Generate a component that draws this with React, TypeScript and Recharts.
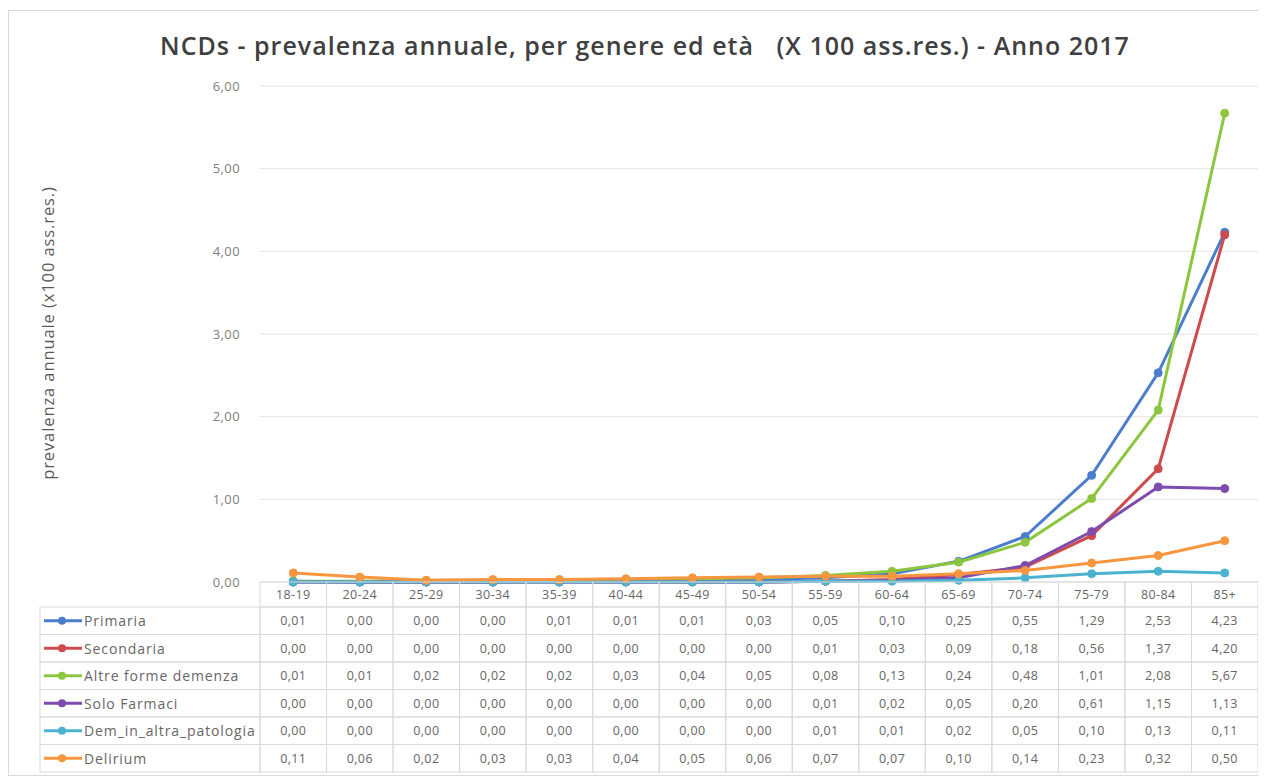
import React from 'react';
import { LineChart, Line, XAxis, YAxis, CartesianGrid } from 'recharts';

const ageGroups = ['18-19', '20-24', '25-29', '30-34', '35-39', '40-44', '45-49', '50-54', '55-59', '60-64', '65-69', '70-74', '75-79', '80-84', '85+'];

const primaria = [0.01, 0.0, 0.0, 0.0, 0.01, 0.01, 0.01, 0.03, 0.05, 0.1, 0.25, 0.55, 1.29, 2.53, 4.23];
const secondaria = [0.0, 0.0, 0.0, 0.0, 0.0, 0.0, 0.0, 0.0, 0.01, 0.03, 0.09, 0.18, 0.56, 1.37, 4.2];
const altreForme = [0.01, 0.01, 0.02, 0.02, 0.02, 0.03, 0.04, 0.05, 0.08, 0.13, 0.24, 0.48, 1.01, 2.08, 5.67];
const soloFarmaci = [0.0, 0.0, 0.0, 0.0, 0.0, 0.0, 0.0, 0.0, 0.01, 0.02, 0.05, 0.2, 0.61, 1.15, 1.13];
const demAltraPatologia = [0.0, 0.0, 0.0, 0.0, 0.0, 0.0, 0.0, 0.0, 0.01, 0.01, 0.02, 0.05, 0.1, 0.13, 0.11];
const delirium = [0.11, 0.06, 0.02, 0.03, 0.03, 0.04, 0.05, 0.06, 0.07, 0.07, 0.1, 0.14, 0.23, 0.32, 0.5];

const yTicks = [0, 1, 2, 3, 4, 5, 6];

const seriesList = [
  { key: 'primaria', name: 'Primaria', color: '#4A7DCC', values: primaria },
  { key: 'secondaria', name: 'Secondaria', color: '#CF4B4B', values: secondaria },
  { key: 'altre', name: 'Altre forme demenza', color: '#8CC63F', values: altreForme },
  { key: 'farmaci', name: 'Solo Farmaci', color: '#7E4CAF', values: soloFarmaci },
  { key: 'dem', name: 'Dem_in_altra_patologia', color: '#4BB3CF', values: demAltraPatologia },
  { key: 'delirium', name: 'Delirium', color: '#F7963F', values: delirium },
];

const data = ageGroups.map((age, i) => {
  const row: Record<string, string | number> = { age };
  seriesList.forEach((s) => {
    row[s.key] = s.values[i];
  });
  return row;
});

// box (with 1px border) and chart inside it
const W = 1258;
const H = 766;
const CW = W - 2;
const CH = H - 2;
const X_AXIS_H = 1;
const M = { top: 75, right: 7, bottom: 192, left: 0 };
const Y_AXIS_W = 251;
const PLOT_W = CW - M.left - M.right - Y_AXIS_W;
const COL_W = PLOT_W / ageGroups.length;
const TABLE_TOP = CH - M.bottom - X_AXIS_H;
const HEADER_H = 25;
const ROW_H = 27.5;
const TABLE_LEFT = 31;
const BORDER = '#d9d9d9';
const TEXT = '#666666';
const FONT = '"Open Sans", sans-serif';

const fmt = (v: number) => v.toFixed(2).replace('.', ',');

function TableTick(props: any) {
  const { x, payload } = props;
  const idx = ageGroups.indexOf(payload.value);
  const left = x - COL_W / 2;
  return (
    <g fontFamily={FONT} fontSize={12.5} fill={TEXT} letterSpacing={0.4}>
      <rect x={left} y={TABLE_TOP} width={COL_W} height={HEADER_H} fill="none" stroke={BORDER} />
      <text x={x} y={TABLE_TOP + HEADER_H / 2} textAnchor="middle" dominantBaseline="central" fill={TEXT}>
        {payload.value}
      </text>
      {seriesList.map((s, r) => {
        const y = TABLE_TOP + HEADER_H + r * ROW_H;
        return (
          <g key={s.key}>
            <rect x={left} y={y} width={COL_W} height={ROW_H} fill="none" stroke={BORDER} />
            <text x={x} y={y + ROW_H / 2} textAnchor="middle" dominantBaseline="central" fill={TEXT}>
              {fmt(s.values[idx])}
            </text>
          </g>
        );
      })}
      {idx === 0 &&
        seriesList.map((s, r) => {
          const y = TABLE_TOP + HEADER_H + r * ROW_H;
          const cy = y + ROW_H / 2;
          return (
            <g key={'lbl-' + s.key}>
              <rect x={TABLE_LEFT} y={y} width={left - TABLE_LEFT} height={ROW_H} fill="none" stroke={BORDER} />
              <line x1={TABLE_LEFT + 4} x2={TABLE_LEFT + 42} y1={cy} y2={cy} stroke={s.color} strokeWidth={3} />
              <circle cx={TABLE_LEFT + 22} cy={cy} r={4} fill={s.color} />
              <text
                x={TABLE_LEFT + 44}
                y={cy}
                dominantBaseline="central"
                fill={TEXT}
                fontSize={14}
                letterSpacing={0.9}
              >
                {s.name}
              </text>
            </g>
          );
        })}
    </g>
  );
}

export default function App() {
  return (
    <div
      style={{
        position: 'relative',
        width: W,
        height: H,
        marginTop: 2,
        border: `1px solid ${BORDER}`,
        boxSizing: 'border-box',
        background: '#fff',
      }}
    >
      <div
        style={{
          position: 'absolute',
          top: 17,
          left: 8,
          width: '100%',
          textAlign: 'center',
          fontFamily: FONT,
          fontWeight: 600,
          fontSize: 25,
          letterSpacing: 1,
          lineHeight: '34px',
          color: '#404040',
          whiteSpace: 'pre',
        }}
      >
        {'NCDs - prevalenza annuale, per genere ed età   (X 100 ass.res.) - Anno 2017'}
      </div>
      <LineChart width={CW} height={CH} data={data} margin={M}>
        <CartesianGrid vertical={false} stroke="#e3e3e3" />
        <XAxis
          dataKey="age"
          scale="band"
          interval={0}
          height={X_AXIS_H}
          axisLine={false}
          tickLine={false}
          tick={<TableTick />}
        />
        <YAxis
          domain={[0, 6]}
          ticks={yTicks}
          width={Y_AXIS_W}
          axisLine={false}
          tickLine={false}
          tickMargin={14}
          tickFormatter={fmt}
          tick={{ fill: '#808080', fontSize: 13, fontFamily: FONT, letterSpacing: 0.4 }}
          label={{
            content: () => (
              <text
                transform="translate(38, 322) rotate(-90)"
                textAnchor="middle"
                dominantBaseline="central"
                fontFamily={FONT}
                fontSize={16.5}
                letterSpacing={0.9}
                fill="#595959"
              >
                prevalenza annuale (x100 ass.res.)
              </text>
            ),
          }}
        />
        {seriesList.map((s) => (
          <Line
            key={s.key}
            dataKey={s.key}
            name={s.name}
            stroke={s.color}
            strokeWidth={3}
            dot={{ r: 4, fill: s.color, stroke: s.color, strokeWidth: 1 }}
            activeDot={false}
            isAnimationActive={false}
          />
        ))}
      </LineChart>
    </div>
  );
}
